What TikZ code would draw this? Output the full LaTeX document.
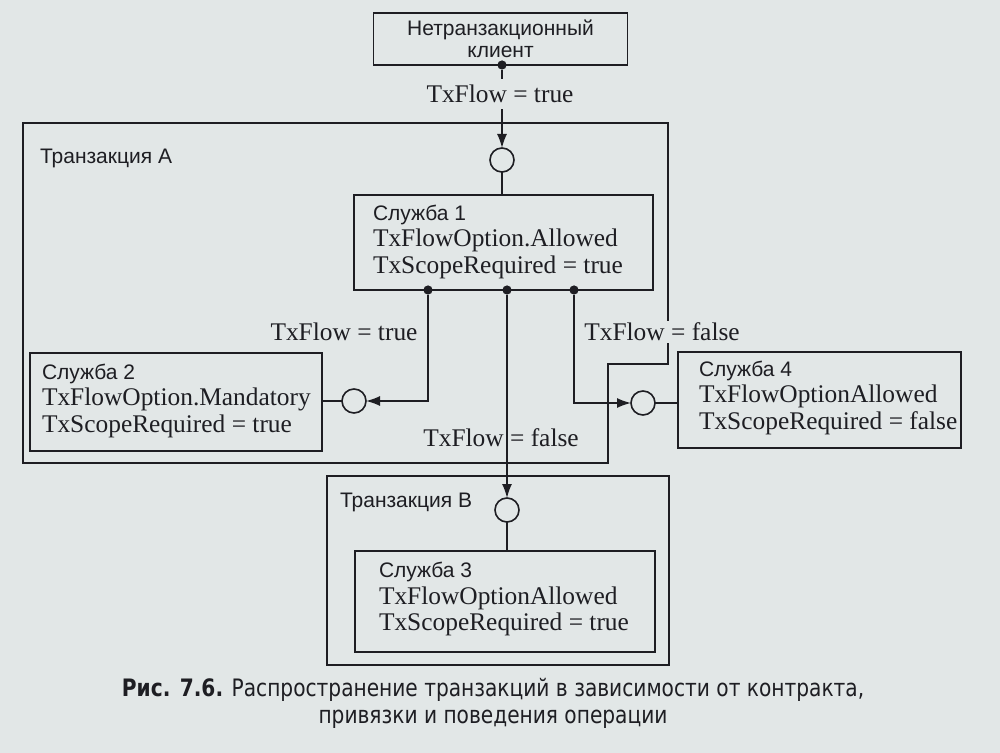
\documentclass[tikz,border=0pt]{standalone}
\usepackage{fontspec}
\setmainfont{Liberation Serif}
\newfontfamily\lsans{Liberation Sans}
\newfontfamily\capfont[FakeStretch=0.84]{DejaVu Sans}
\usetikzlibrary{arrows.meta}
\definecolor{paper}{RGB}{226,231,231}
\definecolor{ink}{RGB}{30,30,35}
\begin{document}
\begin{tikzpicture}[x=0.5pt,y=-0.5pt,
  every node/.style={inner sep=0pt, outer sep=0pt, text=ink},
  frame/.style={draw=ink, line width=0.8pt},
  box/.style={frame, fill=paper, rectangle},
  port/.style={frame, fill=paper, circle, minimum size=12pt},
  dot/.style={circle, fill=ink, minimum size=4.6pt},
  conn/.style={draw=ink, line width=0.8pt},
  arr/.style={conn, -{Latex[length=7pt,width=5pt]}},
  lbl/.style={font=\fontsize{12.7}{13.2}\selectfont},
  sans/.style={font=\lsans\fontsize{10.5}{11}\selectfont},
  stext/.style={anchor=west, align=left, font=\fontsize{12.7}{13.2}\selectfont}
]
\useasboundingbox[fill=paper] (0,0) rectangle (1000,753);

% Transaction A boundary
\draw[frame] (23,123) -- (668,123) -- (668,364) -- (608,364) -- (608,463) -- (23,463) -- cycle;
\node[sans, anchor=west] (tra) at (40,158) {Транзакция A};

% Transaction B
\node[box, minimum width=171pt, minimum height=94.5pt] (trb) at (498,570.5) {};
\node[sans, anchor=west] (trbl) at (340,502) {Транзакция B};

% top client
\node[box, minimum width=127pt, minimum height=26pt, align=center,
      font=\lsans\fontsize{10.5}{11}\selectfont] (cl) at (500.5,39) {Нетранзакционный\\клиент};

% services
\node[box, minimum width=149.5pt, minimum height=47.5pt] (s1) at (503.5,242.5) {};
\node[stext] (s1t) at (373,242) {{\lsans\fontsize{10.5}{12}\selectfont Служба 1}\\TxFlowOption.Allowed\\TxScopeRequired = true};

\node[box, minimum width=146pt, minimum height=49pt] (s2) at (176,402) {};
\node[stext] (s2t) at (42,401) {{\lsans\fontsize{10.5}{12}\selectfont Служба 2}\\TxFlowOption.Mandatory\\TxScopeRequired = true};

\node[box, minimum width=141.5pt, minimum height=48pt] (s4) at (819.5,400) {};
\node[stext] (s4t) at (699,398) {{\lsans\fontsize{10.5}{12}\selectfont Служба 4}\\TxFlowOptionAllowed\\TxScopeRequired = false};

\node[box, minimum width=150pt, minimum height=50.5pt] (s3) at (505,601.5) {};
\node[stext] (s3t) at (379,599) {{\lsans\fontsize{10.5}{12}\selectfont Служба 3}\\TxFlowOptionAllowed\\TxScopeRequired = true};

% ports
\node[port] (c1) at (502,160) {};
\node[port] (c2) at (354,401) {};
\node[port] (c3) at (507,510) {};
\node[port] (c4) at (643,403) {};

% dots
\node[dot] (d0) at (502,65) {};
\node[dot] (d1) at (428,290) {};
\node[dot] (d2) at (507,290) {};
\node[dot] (d3) at (574,290) {};

% connectors
\draw[arr] (d0) -- (c1);
\draw[conn] (c1) -- (c1 |- s1.north);
\draw[arr] (d1) |- (c2);
\draw[conn] (c2) -- (c2 -| s2.east);
\draw[arr] (d2) -- (c3);
\draw[conn] (c3) -- (c3 |- s3.north);
\draw[arr] (d3) |- (c4);
\draw[conn] (c4) -- (c4 -| s4.west);

% labels
\node[lbl, fill=paper, inner xsep=0pt, inner ysep=3pt] (l1) at (500,94) {TxFlow = true};
\node[lbl] (l2) at (344,332) {TxFlow = true};
\node[lbl] (l3) at (501,438) {TxFlow = false};
\node[lbl, fill=paper, inner ysep=1pt] (l4) at (662,332) {TxFlow = false};

% caption
\node[align=center, font=\capfont\fontsize{12}{13.5}\selectfont] (cap) at (493,703)
  {\textbf{Рис. 7.6.} Распространение транзакций в зависимости от контракта,\\привязки и поведения операции};
\end{tikzpicture}
\end{document}
